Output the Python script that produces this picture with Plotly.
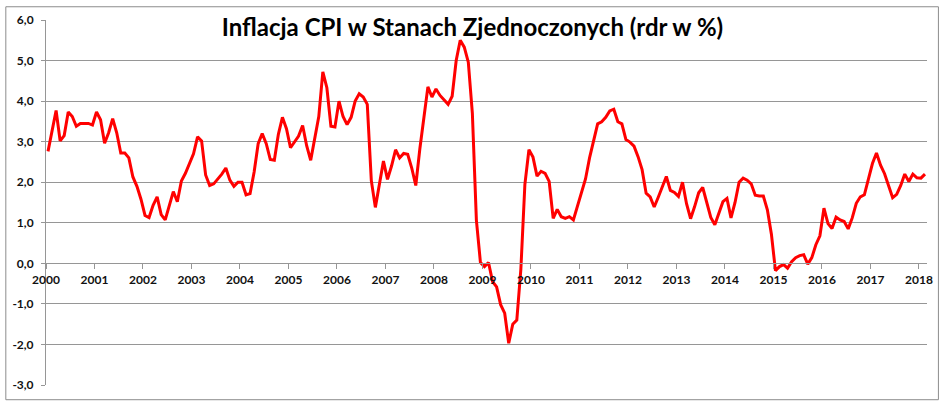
import plotly.graph_objects as go

# year labels on the category axis (one label every 12 months)
years = list(range(2000, 2019))

# monthly CPI y/y (%), Jan..Dec
y2000 = [2.76, 3.25, 3.77, 3.02, 3.15, 3.73, 3.62, 3.38, 3.45, 3.45, 3.45, 3.41]
y2001 = [3.73, 3.54, 2.96, 3.22, 3.57, 3.22, 2.72, 2.72, 2.60, 2.13, 1.90, 1.58]
y2002 = [1.18, 1.13, 1.43, 1.64, 1.20, 1.07, 1.45, 1.77, 1.52, 2.03, 2.22, 2.45]
y2003 = [2.70, 3.12, 3.02, 2.18, 1.92, 1.96, 2.08, 2.20, 2.35, 2.05, 1.90, 2.00]
y2004 = [2.00, 1.69, 1.72, 2.25, 2.95, 3.20, 2.95, 2.56, 2.54, 3.18, 3.60, 3.32]
y2005 = [2.85, 3.00, 3.14, 3.40, 2.90, 2.54, 3.08, 3.62, 4.72, 4.33, 3.38, 3.36]
y2006 = [4.00, 3.62, 3.42, 3.60, 4.00, 4.18, 4.10, 3.92, 2.04, 1.38, 1.95, 2.52]
y2007 = [2.07, 2.40, 2.80, 2.60, 2.71, 2.69, 2.35, 1.92, 2.82, 3.55, 4.35, 4.10]
y2008 = [4.30, 4.14, 4.02, 3.92, 4.12, 5.00, 5.50, 5.33, 4.96, 3.70, 1.06, 0.02]
y2009 = [-0.08, 0.02, -0.45, -0.58, -1.02, -1.23, -1.97, -1.50, -1.40, -0.15, 1.95, 2.80]
y2010 = [2.62, 2.15, 2.27, 2.22, 2.02, 1.11, 1.33, 1.15, 1.11, 1.15, 1.07, 1.40]
y2011 = [1.69, 2.08, 2.60, 3.05, 3.44, 3.49, 3.60, 3.76, 3.80, 3.49, 3.44, 3.05]
y2012 = [2.99, 2.89, 2.63, 2.31, 1.73, 1.64, 1.39, 1.63, 1.90, 2.14, 1.80, 1.75]
y2013 = [1.65, 2.00, 1.47, 1.10, 1.40, 1.74, 1.87, 1.50, 1.13, 0.95, 1.26, 1.52]
y2014 = [1.60, 1.12, 1.50, 2.00, 2.10, 2.05, 1.96, 1.68, 1.66, 1.66, 1.32, 0.72]
y2015 = [-0.18, -0.08, -0.03, -0.12, 0.04, 0.14, 0.19, 0.21, -0.02, 0.14, 0.46, 0.68]
y2016 = [1.36, 0.98, 0.86, 1.14, 1.07, 1.03, 0.85, 1.12, 1.48, 1.64, 1.69, 2.05]
y2017 = [2.46, 2.72, 2.42, 2.21, 1.89, 1.62, 1.70, 1.92, 2.20, 2.02, 2.20, 2.11]
y2018 = [2.10, 2.20]

y_ticks = [-3, -2, -1, 0, 1, 2, 3, 4, 5, 6]

inflation = (y2000 + y2001 + y2002 + y2003 + y2004 + y2005 + y2006 + y2007 + y2008
             + y2009 + y2010 + y2011 + y2012 + y2013 + y2014 + y2015 + y2016 + y2017 + y2018)
# points sit in the middle of each monthly category (Excel "between tick marks")
months = [i + 0.5 for i in range(len(inflation))]

W, H = 945, 404
L, R, T, B = 43, 14, 15, 17
pw, ph = W - L - R, H - T - B
grey = '#969696'
font = 'Lato, Open Sans, sans-serif'
x_range = [0, len(inflation)]

fig = go.Figure()
fig.add_trace(go.Scatter(x=months, y=inflation, mode='lines',
                         line=dict(color='#ff0000', width=3)))
# empty trace so the free category axis (crossing at 0) gets drawn
fig.add_trace(go.Scatter(x=[], y=[], xaxis='x2', yaxis='y', hoverinfo='skip'))

fig.update_layout(
    width=W, height=H,
    margin=dict(l=L, r=R, t=T, b=B),
    paper_bgcolor='white', plot_bgcolor='white',
    showlegend=False,
    title=dict(text='<b>Inflacja CPI w Stanach Zjednoczonych (rdr w %)</b>',
               x=0.5, xref='container', xanchor='center',
               y=1 - 28 / H, yref='container', yanchor='middle',
               font=dict(family=font, size=24, color='black')),
    # main x axis: only carries the subplot, hidden
    xaxis=dict(range=x_range, showline=False, showticklabels=False, ticks='',
               showgrid=False, zeroline=False),
    # visible category axis crossing the value axis at 0
    xaxis2=dict(range=x_range, overlaying='x', anchor='free',
                position=(0 - y_ticks[0]) / (y_ticks[-1] - y_ticks[0]),
                tickvals=[12 * i for i in range(len(years))],
                ticktext=['<b>%d</b>' % y for y in years],
                tickfont=dict(family=font, size=12, color='#111111'),
                showline=True, linecolor=grey, linewidth=1,
                ticks='outside', ticklen=5, tickcolor=grey,
                showgrid=False, zeroline=False),
    yaxis=dict(range=[y_ticks[0], y_ticks[-1]],
               tickvals=y_ticks,
               ticktext=['<b>%s</b>' % ('%.1f' % v).replace('.', ',') for v in y_ticks],
               tickfont=dict(family=font, size=12, color='#111111'),
               showline=True, linecolor=grey, linewidth=1,
               ticks='outside', ticklen=4, tickcolor=grey,
               ticklabelstandoff=5,
               showgrid=True, gridcolor=grey, gridwidth=1, zeroline=False),
)

# chart-area border like the Excel frame
fig.add_shape(type='rect', xref='paper', yref='paper',
              x0=(2.5 - L) / pw, x1=(942.5 - L) / pw,
              y0=(H - B - 402) / ph, y1=(H - B - 1.5) / ph,
              line=dict(color='#8c8c8c', width=1), fillcolor='rgba(0,0,0,0)')

fig.write_html("out.html", config={'displayModeBar': False},
               post_script="document.body.style.margin = '0';")
